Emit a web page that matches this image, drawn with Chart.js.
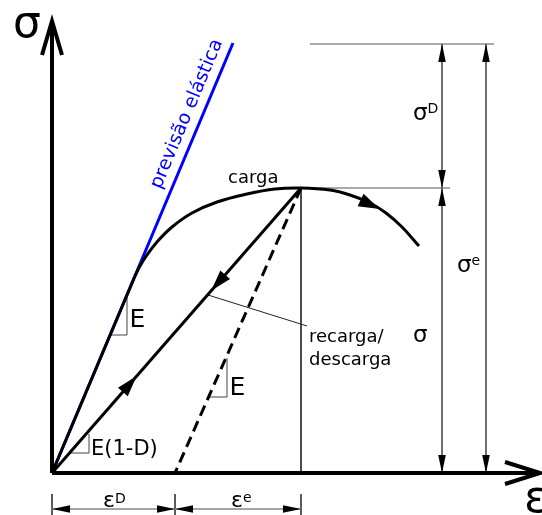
<!DOCTYPE html>
<html>
<head>
<meta charset="utf-8">
<title>σ–ε dano</title>
<script src="https://cdn.jsdelivr.net/npm/chart.js@4.4.1/dist/chart.umd.min.js"></script>
<style>
  html, body { margin: 0; padding: 0; background: #fff; }
  #wrap { width: 542px; height: 515px; }
</style>
</head>
<body>
<div id="wrap"><canvas id="chart" width="542" height="515"></canvas></div>
<script>
// strain on x, stress on y (drawing units)
const elasticLine = [[0, 0], [1.81, 4.30]];
// loading path: straight elastic start, then the curved part through the peak
const loadingStraight = [[0, 0], [0.83, 1.97]];
const loadingCurve = [
  [0.83, 1.97], [0.88, 2.07], [0.95, 2.18], [1.05, 2.31], [1.20, 2.46],
  [1.40, 2.60], [1.65, 2.71], [1.95, 2.79], [2.23, 2.84], [2.49, 2.85],
  [2.78, 2.83], [2.98, 2.78], [3.18, 2.70], [3.34, 2.60], [3.50, 2.46], [3.67, 2.27]
];
const peak = [2.49, 2.85];
const epsD = 1.23;             // permanent strain left after elastic unloading
const sigmaE = 4.29;           // effective stress level
const unloadLine = [[0, 0], peak];
const elasticUnload = [peak, [epsD, 0]];

const sigmaAxisTop = 4.52;
const epsAxisEnd = 4.88;

// dimension lines
const dimSigmaD = [[3.90, peak[1]], [3.90, sigmaE]];
const dimSigma = [[3.90, 0], [3.90, peak[1]]];
const dimSigmaE = [[4.34, 0], [4.34, sigmaE]];
const dimEpsD = [[0, -0.36], [epsD, -0.36]];
const dimEpsE = [[epsD, -0.36], [peak[0], -0.36]];
const dimTicks = [0, epsD, peak[0]];
const peakDrop = [peak, [peak[0], 0]];
const peakLevel = [peak, [3.98, peak[1]]];
const topLevel = [[2.58, sigmaE], [4.42, sigmaE]];

// slope triangles and leader
const triE = [[0.58, 1.38], [0.75, 1.38], [0.75, 1.76]];
const triE2 = [[1.57, 0.76], [1.75, 0.76], [1.75, 1.15]];
const triED = [[0.18, 0.20], [0.37, 0.20], [0.37, 0.39]];
const leader = [[1.56, 1.78], [2.55, 1.47]];

const FONT = '"DejaVu Sans", Verdana, sans-serif';

function pts(arr) {
  return arr.map(p => ({ x: p[0], y: p[1] }));
}

function line(arr, color, width, extra) {
  return Object.assign({
    data: pts(arr),
    showLine: true,
    borderColor: color,
    borderWidth: width,
    pointRadius: 0,
    fill: false,
    clip: false,
    tension: 0
  }, extra || {});
}

const datasets = [
  line([[0, 0], [0, sigmaAxisTop]], '#000', 4, { order: 0 }),
  line([[0, 0], [epsAxisEnd, 0]], '#000', 4, { order: 0 }),
  line(loadingStraight, '#000', 3, { order: 1 }),
  line(loadingCurve, '#000', 3, { tension: 0.4, order: 1 }),
  line(unloadLine, '#000', 3, { order: 1 }),
  line(elasticUnload, '#000', 3, { borderDash: [11, 6], order: 1 }),
  line(elasticLine, '#0000ff', 3, { order: 5 }),
  line(peakDrop, '#333', 1, { order: 3 }),
  line(peakLevel, '#555', 1, { order: 3 }),
  line(topLevel, '#555', 1, { order: 3 }),
  line(dimSigmaD, '#222', 1.3, { order: 3 }),
  line(dimSigma, '#222', 1.3, { order: 3 }),
  line(dimSigmaE, '#222', 1.3, { order: 3 }),
  line(dimEpsD, '#888', 1.5, { order: 3 }),
  line(dimEpsE, '#888', 1.5, { order: 3 }),
  line(triE, '#444', 1, { order: 3 }),
  line(triE2, '#444', 1, { order: 3 }),
  line(triED, '#444', 1, { order: 3 }),
  line(leader, '#222', 1, { order: 3 })
];
dimTicks.forEach(e => datasets.push(line([[e, -0.21], [e, -0.42]], '#444', 1, { order: 3 })));

function px(chart, p) {
  return [chart.scales.x.getPixelForValue(p[0]), chart.scales.y.getPixelForValue(p[1])];
}

// filled arrowhead with its tip at (x, y), pointing along angle a
function head(ctx, x, y, a, len, half) {
  ctx.save();
  ctx.translate(x, y);
  ctx.rotate(a);
  ctx.beginPath();
  ctx.moveTo(0, 0);
  ctx.lineTo(-len, -half);
  ctx.lineTo(-len, half);
  ctx.closePath();
  ctx.fillStyle = '#000';
  ctx.fill();
  ctx.restore();
}

function headTo(chart, ctx, from, tip, len, half) {
  const a = px(chart, from), b = px(chart, tip);
  head(ctx, b[0], b[1], Math.atan2(b[1] - a[1], b[0] - a[0]), len, half);
}

function along(seg, t) {
  return [seg[0][0] + (seg[1][0] - seg[0][0]) * t, seg[0][1] + (seg[1][1] - seg[0][1]) * t];
}

function text(ctx, s, x, y, size, align) {
  ctx.font = size + 'px ' + FONT;
  ctx.textAlign = align || 'left';
  ctx.fillText(s, x, y);
}

// symbol with a raised index, e.g. σ^D
function indexed(chart, ctx, p, sym, idx, size, idxSize, rise) {
  const q = px(chart, p);
  text(ctx, sym, q[0], q[1], size);
  const w = ctx.measureText(sym).width;
  text(ctx, idx, q[0] + w, q[1] - rise, idxSize);
}

const decorations = {
  id: 'decorations',
  afterDatasetsDraw(chart) {
    const ctx = chart.ctx;
    ctx.save();

    // open arrowheads of the axes
    ctx.strokeStyle = '#000';
    ctx.lineWidth = 4;
    ctx.lineJoin = 'miter';
    let t = px(chart, [0, sigmaAxisTop]);
    ctx.beginPath();
    ctx.moveTo(t[0] - 10, t[1] + 34);
    ctx.lineTo(t[0], t[1]);
    ctx.lineTo(t[0] + 10, t[1] + 34);
    ctx.stroke();
    t = px(chart, [epsAxisEnd, 0]);
    ctx.beginPath();
    ctx.moveTo(t[0] - 35, t[1] - 11);
    ctx.lineTo(t[0], t[1]);
    ctx.lineTo(t[0] - 35, t[1] + 11);
    ctx.stroke();

    // direction arrows on the paths
    const c0 = loadingCurve[12], c1 = loadingCurve[13];
    headTo(chart, ctx, loadingCurve[11], along([c0, c1], 0.6), 21, 7);
    const down = [peak, [0, 0]];
    headTo(chart, ctx, peak, along(down, 0.36), 21, 6.5);
    headTo(chart, ctx, [0, 0], along(unloadLine, 0.34), 21, 6.5);

    // dimension arrowheads, both ends pointing outwards
    [dimSigmaD, dimSigma, dimSigmaE, dimEpsD, dimEpsE].forEach(d => {
      headTo(chart, ctx, d[0], d[1], 18, 3.8);
      headTo(chart, ctx, d[1], d[0], 18, 3.8);
    });

    // labels
    ctx.fillStyle = '#000';
    ctx.textBaseline = 'alphabetic';
    let q = px(chart, [-0.25, 4.36]);
    text(ctx, 'σ', q[0], q[1], 44, 'center');
    q = px(chart, [4.84, -0.39]);
    text(ctx, 'ε', q[0], q[1], 44, 'center');

    q = px(chart, [1.76, 2.90]);
    text(ctx, 'carga', q[0], q[1], 18);
    q = px(chart, [2.57, 1.31]);
    text(ctx, 'recarga/', q[0], q[1], 18);
    q = px(chart, [2.57, 1.08]);
    text(ctx, 'descarga', q[0], q[1], 18);

    q = px(chart, [0.775, 1.46]);
    text(ctx, 'E', q[0], q[1], 25);
    q = px(chart, [1.775, 0.78]);
    text(ctx, 'E', q[0], q[1], 25);
    q = px(chart, [0.39, 0.18]);
    text(ctx, 'E(1-D)', q[0], q[1], 21);

    indexed(chart, ctx, [3.61, 3.53], 'σ', 'D', 23, 14, 7);
    q = px(chart, [3.61, 1.31]);
    text(ctx, 'σ', q[0], q[1], 23);
    indexed(chart, ctx, [4.05, 2.01], 'σ', 'e', 23, 14, 7);
    indexed(chart, ctx, [0.51, -0.34], 'ε', 'D', 22, 14, 4);
    indexed(chart, ctx, [1.79, -0.34], 'ε', 'e', 22, 14, 5);

    // rotated label along the elastic prediction
    const a = px(chart, elasticLine[0]), b = px(chart, elasticLine[1]);
    q = px(chart, [1.35, 3.59]);
    ctx.save();
    ctx.translate(q[0], q[1]);
    ctx.rotate(Math.atan2(b[1] - a[1], b[0] - a[0]));
    ctx.fillStyle = '#0000ff';
    ctx.textBaseline = 'middle';
    text(ctx, 'previsão elástica', 0, 0, 19, 'center');
    ctx.restore();

    ctx.restore();
  }
};

new Chart(document.getElementById('chart'), {
  type: 'scatter',
  data: { datasets },
  options: {
    responsive: false,
    animation: false,
    events: [],
    layout: { padding: 0 },
    plugins: { legend: { display: false }, tooltip: { enabled: false } },
    scales: {
      x: { type: 'linear', min: -0.52, max: 4.90, display: false },
      y: { type: 'linear', min: -0.42, max: 4.73, display: false }
    }
  },
  plugins: [decorations]
});
</script>
</body>
</html>
